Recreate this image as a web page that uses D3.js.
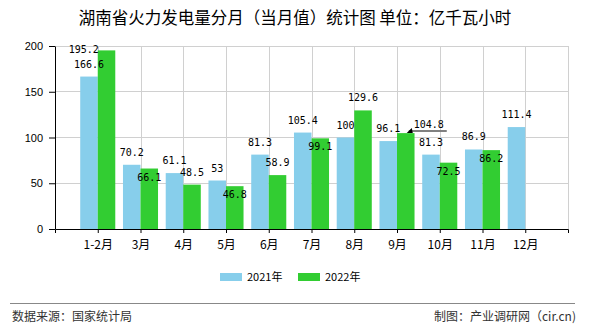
<!DOCTYPE html>
<html><head><meta charset="utf-8">
<script src="https://cdn.jsdelivr.net/npm/d3@7/dist/d3.min.js"></script>
<style>
body{margin:0;background:#fff;}
svg{display:block;}
</style></head>
<body>
<svg id="c" width="590" height="330"></svg>
<script>
const categories = ["1-2月","3月","4月","5月","6月","7月","8月","9月","10月","11月","12月"];
const values2021 = [166.6,70.2,61.1,53,81.3,105.4,100,96.1,81.3,86.9,111.4];
const values2022 = [195.2,66.1,48.5,46.8,58.9,99.1,129.6,104.8,72.5,86.2,null];
const seriesNames = ["2021年","2022年"];
const yTicks = [0,50,100,150,200];
// label placement modes for the 2022 series (style config)
const greenLabelMode = ["left","inside","above","inside","above","inside","above","leader","inside","inside"];

const colors = ["#87CEEB","#32CD32"];
const svg = d3.select("#c");
const L = 55, R = 568, T = 46, B = 229;
const cjk = "'Noto Sans CJK SC','Noto Sans',sans-serif";
const mono = "'DejaVu Sans Mono',monospace";

const x = d3.scalePoint().domain(categories).range([L, R]).padding(1);
const y = d3.scaleLinear().domain([0,200]).range([B, T]);
const step = x.step();
const bw = step * 0.41;

// title
svg.append("text").attr("x",295).attr("y",24).attr("text-anchor","middle")
  .style("font-family",cjk).style("font-size","16.5px").attr("fill","#000")
  .text("湖南省火力发电量分月（当月值）统计图 单位：亿千瓦小时");

// gridlines
const g = svg.append("g");
g.selectAll(".hg").data(yTicks.filter(d=>d>0)).join("line")
  .attr("x1",L).attr("x2",R).attr("y1",d=>y(d)).attr("y2",d=>y(d))
  .attr("stroke","#d0d0d0").attr("stroke-width",1).attr("shape-rendering","crispEdges");
g.selectAll(".vg").data(categories).join("line")
  .attr("x1",d=>Math.round(x(d))+0.5).attr("x2",d=>Math.round(x(d))+0.5).attr("y1",T).attr("y2",B)
  .attr("stroke","#d0d0d0").attr("stroke-width",1);
g.append("line").attr("x1",R+0.5).attr("x2",R+0.5).attr("y1",T).attr("y2",B)
  .attr("stroke","#d0d0d0").attr("stroke-width",1);

// bars
const bars = svg.append("g");
bars.selectAll(".b1").data(values2021).join("rect")
  .attr("x",(d,i)=>x(categories[i])-bw).attr("width",bw)
  .attr("y",d=>y(d)).attr("height",d=>B-y(d)).attr("fill",colors[0]);
bars.selectAll(".b2").data(values2022.map((v,i)=>({v,i})).filter(d=>d.v!=null)).join("rect")
  .attr("x",d=>x(categories[d.i])).attr("width",bw)
  .attr("y",d=>y(d.v)).attr("height",d=>B-y(d.v)).attr("fill",colors[1]);

// axes
const ya = svg.append("g").attr("transform",`translate(${L},0)`)
  .call(d3.axisLeft(y).tickValues(yTicks).tickSize(6).tickSizeOuter(0).tickPadding(6));
ya.selectAll("text").style("font-family","'Liberation Sans',Arial,sans-serif").style("font-size","11px").attr("fill","#000");
ya.selectAll("line,path").attr("stroke","#000");

const xa = svg.append("g").attr("transform",`translate(0,${B})`)
  .call(d3.axisBottom(x).tickSize(4).tickSizeOuter(4).tickPadding(7));
xa.selectAll("text").style("font-family",cjk).style("font-size","12px").attr("fill","#000");
xa.selectAll("line,path").attr("stroke","#000");

// value labels
const lab = svg.append("g").style("font-family",mono).style("font-size","10px").attr("fill","#000");
values2021.forEach((v,i)=>{
  lab.append("text").attr("x",x(categories[i])-bw/2).attr("y",y(v)-9)
    .attr("text-anchor","middle").text(v);
});
values2022.forEach((v,i)=>{
  if(v==null) return;
  const cx = x(categories[i])+bw/2, top = y(v), mode = greenLabelMode[i];
  if(mode==="above"){
    lab.append("text").attr("x",cx).attr("y",top-9).attr("text-anchor","middle").text(v);
  } else if(mode==="inside"){
    lab.append("text").attr("x",cx).attr("y",top+12).attr("text-anchor","middle").text(v);
  } else if(mode==="left"){
    lab.append("text").attr("x",x(categories[i])-14).attr("y",top+3).attr("text-anchor","middle").text(v);
  } else if(mode==="leader"){
    const lx = cx+23;
    svg.append("line").attr("x1",cx+3).attr("x2",lx+18).attr("y1",top-2).attr("y2",top-2)
      .attr("stroke","#808080").attr("stroke-width",2);
    svg.append("path").attr("d",`M${cx+1},${top} L${cx+7},${top} L${cx+6},${top-5} Z`).attr("fill","#000");
    lab.append("text").attr("x",lx).attr("y",top-5).attr("text-anchor","middle").text(v);
  }
});

// legend
const lg = svg.append("g");
const legX = [220,298];
seriesNames.forEach((n,i)=>{
  lg.append("rect").attr("x",legX[i]).attr("y",273).attr("width",22).attr("height",8).attr("fill",colors[i]);
  lg.append("text").attr("x",legX[i]+27).attr("y",281).style("font-family",cjk).style("font-size","11px")
    .attr("fill","#000").text(n);
});

// footer
svg.append("line").attr("x1",10).attr("x2",575).attr("y1",303.5).attr("y2",303.5)
  .attr("stroke","#888").attr("stroke-width",1);
svg.append("text").attr("x",12).attr("y",321).style("font-family",cjk).style("font-size","12px")
  .attr("fill","#333").text("数据来源：国家统计局");
svg.append("text").attr("x",576).attr("y",321).attr("text-anchor","end").style("font-family",cjk).style("font-size","12px")
  .attr("fill","#333").text("制图：产业调研网（cir.cn)");
</script>
</body></html>
